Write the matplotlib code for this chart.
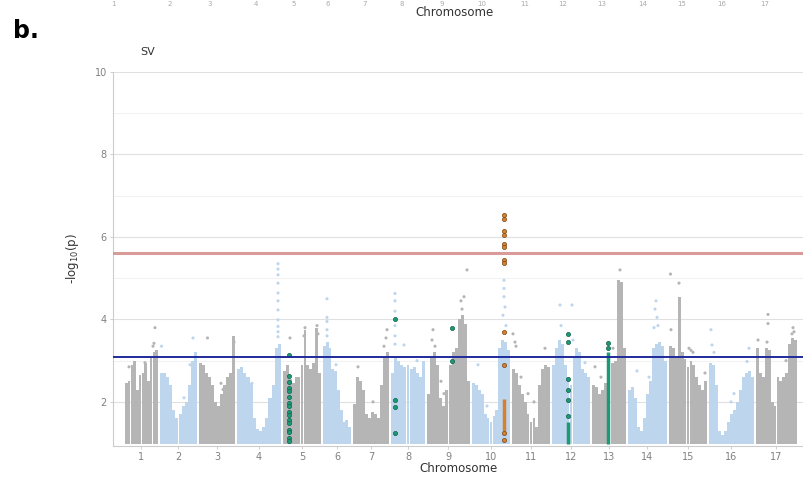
import numpy as np
import matplotlib
matplotlib.use("Agg")
import matplotlib.pyplot as plt

# chromosome sizes (Mb-ish units on the x axis)
chrom_len = [33, 37, 36, 44, 38, 28, 36, 34, 43, 38, 38, 38, 34, 39, 38, 45, 41]
chrom_names = [str(i) for i in range(1, 18)]

# highest -log10(p) inside each window along every chromosome
top_1 = [2.45, 2.5, 2.9, 3.0, 2.3, 2.65, 2.7, 2.95, 2.5, 3.1, 3.2, 3.25]
top_2 = [2.7, 2.7, 2.6, 2.4, 1.8, 1.6, 1.7, 1.9, 2.0, 2.4, 3.0, 3.2]
top_3 = [2.95, 2.9, 2.7, 2.6, 2.4, 2.0, 1.9, 2.2, 2.4, 2.6, 2.7, 3.6]
top_4 = [2.8, 2.85, 2.7, 2.6, 2.45, 1.6, 1.35, 1.3, 1.4, 1.6, 2.1, 2.4, 3.3, 3.4]
top_5 = [2.75, 2.9, 2.55, 2.45, 2.6, 2.6, 2.9, 3.75, 2.9, 2.8, 2.95, 3.8, 2.7]
top_6 = [3.35, 3.45, 3.3, 2.8, 2.75, 2.3, 1.8, 1.5, 1.55, 1.4]
top_7 = [1.95, 2.6, 2.5, 2.3, 1.7, 1.6, 1.75, 1.7, 1.6, 2.4, 3.1, 3.2]
top_8 = [2.7, 3.1, 3.0, 2.9, 2.85, 2.9, 2.8, 2.85, 2.7, 2.6, 3.0]
top_9 = [2.2, 3.1, 3.2, 2.9, 2.1, 1.9, 2.3, 2.9, 3.2, 3.3, 4.0, 4.1, 3.9, 2.5]
top_10 = [2.45, 2.4, 2.3, 2.2, 1.7, 1.6, 1.5, 1.65, 1.8, 3.3, 3.5, 3.45, 3.25]
top_11 = [2.8, 2.7, 2.4, 2.2, 2.0, 1.7, 1.5, 1.6, 1.4, 2.4, 2.8, 2.9, 2.85]
top_12 = [2.9, 3.3, 3.5, 3.4, 2.9, 2.6, 2.4, 3.1, 3.3, 3.2, 2.8, 2.7, 2.6]
top_13 = [2.4, 2.35, 2.2, 2.3, 2.45, 2.9, 2.95, 3.0, 4.95, 4.9, 3.3]
top_14 = [2.3, 2.35, 2.1, 1.4, 1.3, 1.6, 2.2, 2.5, 3.3, 3.4, 3.45, 3.35, 3.0]
top_15 = [3.35, 3.3, 3.1, 4.55, 3.2, 3.05, 2.85, 3.0, 2.9, 2.6, 2.4, 2.3, 2.5]
top_16 = [2.95, 2.9, 2.4, 1.3, 1.2, 1.3, 1.5, 1.7, 1.8, 2.0, 2.3, 2.6, 2.7, 2.75, 2.6]
top_17 = [3.3, 2.7, 2.6, 3.3, 3.25, 2.0, 1.9, 2.6, 2.5, 2.6, 2.7, 3.4, 3.55, 3.5]

# isolated SNPs standing above the mass: (position in chromosome, -log10 p)
dots_1 = [(30, 3.8), (29, 3.42), (28, 3.35), (4, 2.85), (20, 2.95)]
dots_2 = [(1.5, 3.35), (33, 3.55), (30, 2.9), (24, 2.1)]
dots_3 = [(8.5, 3.55), (22, 2.45), (24, 2.3), (35, 3.45)]
dots_4 = [(41, 5.35), (41, 5.22), (41, 5.08), (41, 4.88), (41, 4.64), (41, 4.45),
          (41, 4.23), (41, 3.99), (41, 3.83), (41, 3.7), (41, 3.58), (15, 2.45)]
dots_5 = [(7, 3.55), (22, 3.8), (34, 3.85), (21, 3.6), (35, 3.65)]
dots_6 = [(4, 4.5), (4, 4.05), (4, 3.95), (4, 3.75), (4, 3.6), (13, 2.9)]
dots_7 = [(33, 3.55), (34, 3.75), (31, 3.35), (5, 2.85), (20, 2.0)]
dots_8 = [(4, 4.63), (4, 4.45), (4, 4.2), (4, 3.85), (4, 3.6), (4, 3.4), (13, 3.38), (26, 3.0)]
dots_9 = [(6, 3.75), (5, 3.5), (8, 3.35), (34, 4.45), (35, 4.25), (37, 4.55),
          (40, 5.2), (33, 3.5), (14, 2.5), (17, 2.2)]
dots_10 = [(32, 4.95), (32, 4.75), (32, 4.55), (33, 4.3), (31, 4.1), (34, 3.85), (6, 2.9), (15, 1.9)]
dots_11 = [(1, 3.65), (3, 3.45), (4, 3.35), (9, 2.6), (33, 3.3), (22, 2.0), (16, 2.2)]
dots_12 = [(8, 4.35), (20, 4.35), (9, 3.85), (21, 3.5), (33, 2.95)]
dots_13 = [(28, 5.2), (3, 2.85), (9, 2.6), (21, 3.3)]
dots_14 = [(28, 4.45), (27, 4.25), (26, 3.8), (30, 3.85), (29, 4.05), (9, 2.75), (21, 2.6)]
dots_15 = [(1.5, 5.1), (10, 4.88), (2, 3.75), (20, 3.3), (22, 3.25), (24, 3.2), (36, 2.7)]
dots_16 = [(2, 3.75), (3, 3.38), (5, 3.2), (40, 3.3), (38, 2.98), (22, 2.0), (25, 2.2)]
dots_17 = [(2, 3.5), (12, 4.12), (12, 3.9), (11, 3.45), (37, 3.8), (36, 3.65), (38, 3.7), (30, 3.0)]

# highlighted loci: (chromosome, position, values)
green_5 = (5, 6, [3.14, 2.62, 2.48, 2.33, 2.27, 2.12, 1.98, 1.9, 1.76, 1.69,
                  1.55, 1.48, 1.33, 1.27, 1.12, 1.05])
green_8 = (8, 4, [4.02, 2.05, 1.88, 1.25])
green_9 = (9, 25, [3.78, 3.0])
green_12 = (12, 16, [3.64, 3.45, 2.55, 2.3, 2.05, 1.65])
green_13 = (13, 16, [3.42, 3.3])
orange_10 = (10, 32, [6.52, 6.43, 6.14, 6.05, 5.84, 5.76, 5.44, 5.36, 3.7, 2.9, 1.24, 1.08])
# solid runs of overlapping highlighted SNPs: (chromosome, position, low, high)
green_runs = [(12, 16, 0.98, 1.5), (13, 16, 0.98, 3.22)]
orange_runs = [(10, 32, 1.3, 2.08)]

sig_line = 5.6
sugg_line = 3.1

tops = [top_1, top_2, top_3, top_4, top_5, top_6, top_7, top_8, top_9,
        top_10, top_11, top_12, top_13, top_14, top_15, top_16, top_17]
dots = [dots_1, dots_2, dots_3, dots_4, dots_5, dots_6, dots_7, dots_8, dots_9,
        dots_10, dots_11, dots_12, dots_13, dots_14, dots_15, dots_16, dots_17]

gap = 2
starts = np.concatenate([[0], np.cumsum(np.array(chrom_len[:-1]) + gap)])
mids = starts + np.array(chrom_len) / 2

gray = "#b5b5b5"
blue = "#bdd6ee"
green = "#1b9a76"
orange = "#d8802e"
floor = 0.97

fig = plt.figure(figsize=(8.04, 4.87), dpi=100)
ax = fig.add_axes([113 / 804, 41 / 487, 691 / 804, 374 / 487])

for i, (tp, dt) in enumerate(zip(tops, dots)):
    col = gray if i % 2 == 0 else blue
    n = len(tp)
    w = chrom_len[i] / n
    xs = starts[i] + (np.arange(n) + 0.5) * w
    tp = np.array(tp)
    ax.bar(xs, tp - floor, bottom=floor, width=w * 0.97, color=col, linewidth=0, zorder=2)
    if dt:
        px, py = zip(*dt)
        ax.scatter(starts[i] + np.array(px), py, s=5, color=col, edgecolors="none", zorder=3)


def mark(group, color, edge):
    c, pos, vals = group
    x = starts[c - 1] + pos
    ax.scatter([x] * len(vals), vals, s=9, color=color, edgecolors=edge,
               linewidths=0.5, zorder=5)


for g in [green_5, green_8, green_9, green_12, green_13]:
    mark(g, green, "#0f5e48")
mark(orange_10, orange, "#7a4312")
for c, pos, lo, hi in green_runs:
    ax.vlines(starts[c - 1] + pos, lo, hi, color=green, linewidth=2.5, zorder=4)
for c, pos, lo, hi in orange_runs:
    ax.vlines(starts[c - 1] + pos, lo, hi, color=orange, linewidth=2.5, zorder=4)

ax.axhline(sig_line, color="#d99a9a", linewidth=2.2, zorder=6)
ax.axhline(sugg_line, color="#1f2a9c", linewidth=1.4, zorder=6)

ax.set_xlim(-12, 679)
ax.set_ylim(0.93, 10)
ax.set_yticks([2, 4, 6, 8, 10])
ax.set_yticks([3, 5, 7, 9], minor=True)
ax.grid(True, axis="y", which="major", color="#e0e0e0", linewidth=0.8, zorder=0)
ax.grid(True, axis="y", which="minor", color="#f2f2f2", linewidth=0.8, zorder=0)
ax.tick_params(axis="y", which="minor", length=0)
ax.tick_params(axis="both", which="major", labelsize=7, labelcolor="#808080",
               color="#c8c8c8", length=2.5, width=0.6, pad=2)
ax.set_xticks(mids)
ax.set_xticklabels(chrom_names)
for s in ["top", "right"]:
    ax.spines[s].set_visible(False)
for s in ["left", "bottom"]:
    ax.spines[s].set_color("#cccccc")
    ax.spines[s].set_linewidth(0.8)

ax.set_xlabel("Chromosome", fontsize=8.5, color="#333333", labelpad=0)
ax.set_ylabel(r"-log$_{10}$(p)", fontsize=8.5, color="#333333", labelpad=10)
ax.set_axisbelow(True)

fig.text(140 / 804, 1 - 52 / 487, "SV", fontsize=8, color="#333333", va="center")
fig.text(13 / 804, 1 - 31 / 487, "b.", fontsize=17, fontweight="bold", va="center")

# bottom edge of the panel above
fig.text(455 / 804, 1 - 13 / 487, "Chromosome", fontsize=8.5, color="#333333",
         ha="center", va="center")
above_x = [113, 170, 210, 256, 294, 328, 365, 402, 442, 482, 525, 563, 602, 643, 682, 722, 765]
for k, x in enumerate(above_x):
    fig.text(x / 804, 1 - 4 / 487, str(k + 1), fontsize=5, color="#aaaaaa",
             ha="center", va="center")

fig.savefig("out.png", dpi=100)
